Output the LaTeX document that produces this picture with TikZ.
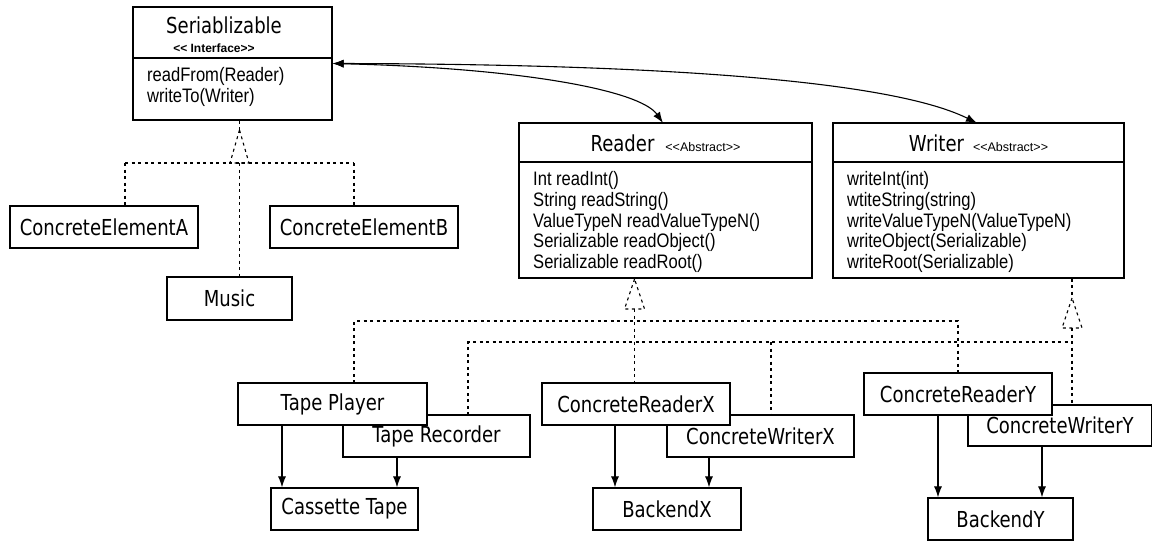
\documentclass[tikz,border=0pt]{standalone}
\usepackage{fontspec}
\setmainfont{Liberation Sans}
\usetikzlibrary{arrows.meta}
\newfontfamily\lblfamily[FakeStretch=0.82]{DejaVu Sans}
\newfontfamily\mthfamily[FakeStretch=0.85]{Liberation Sans}
\newfontfamily\tagfamily{Liberation Sans}
\newcommand\lblfont{\lblfamily\fontsize{22}{24}\selectfont}
\newcommand\mthfont{\mthfamily\fontsize{19.5}{21}\selectfont}
\newcommand\tagfont{\tagfamily\fontsize{12.5}{14}\selectfont}
\newcommand\itagfont{\tagfamily\bfseries\fontsize{12}{14}\selectfont}
\begin{document}
\begin{tikzpicture}[x=1pt, y=-1pt,
  box/.style={draw, fill=white, line width=1.2pt, inner sep=0pt, font=\lblfont},
  txt/.style={inner sep=0pt},
  mth/.style={anchor=west, inner sep=0pt, font=\mthfont},
  real/.style={line width=1.1pt, dash pattern=on 3pt off 3.5pt},
  dep/.style={line width=1.1pt, -{Latex[length=11pt,width=8pt]}},
  assoc/.style={line width=1.1pt, {Latex[length=11pt,width=8pt]}-{Latex[length=11pt,width=8pt]}},
]
\useasboundingbox[fill=white] (0,0) rectangle (1152,541);

% ---------- class boxes ----------
\node[box, minimum width=199pt, minimum height=113pt] (ser) at (232.5,63.5) {};
\draw[line width=1.2pt] (ser.west |- 0,58) -- (ser.east |- 0,58);
\node[txt, font=\lblfont] (sert) at (224,25) {Seriablizable};
\node[txt, font=\itagfont] (seri) at (214,48) {<{}< Interface>{}>};
\node[mth] (sm1) at (147,76) {readFrom(Reader)};
\node[mth] (sm2) at (147,97) {writeTo(Writer)};

\node[box, minimum width=293pt, minimum height=155pt] (rd) at (665.5,200.5) {};
\draw[line width=1.2pt] (rd.west |- 0,162) -- (rd.east |- 0,162);
\node[txt, anchor=base] (rdt) at (665.5,151) {{\lblfont Reader}\hspace{11pt}{\tagfont <{}<Abstract>{}>}};
\node[mth] (rm1) at (533,180) {Int readInt()};
\node[mth] (rm2) at (533,201) {String readString()};
\node[mth] (rm3) at (533,222) {ValueTypeN readValueTypeN()};
\node[mth] (rm4) at (533,242.5) {Serializable readObject()};
\node[mth] (rm5) at (533,263) {Serializable readRoot()};

\node[box, minimum width=291pt, minimum height=155pt] (wr) at (978.5,200.5) {};
\draw[line width=1.2pt] (wr.west |- 0,162) -- (wr.east |- 0,162);
\node[txt, anchor=base] (wrt) at (978.5,151) {{\lblfont Writer}\hspace{9pt}{\tagfont <{}<Abstract>{}>}};
\node[mth] (wm1) at (847,180) {writeInt(int)};
\node[mth] (wm2) at (847,201) {wtiteString(string)};
\node[mth] (wm3) at (847,222) {writeValueTypeN(ValueTypeN)};
\node[mth] (wm4) at (847,242.5) {writeObject(Serializable)};
\node[mth] (wm5) at (847,263) {writeRoot(Serializable)};

% ---------- associations Serializable <-> Reader / Writer ----------
\coordinate (rdin) at (663,123);
\coordinate (wrin) at (977,123);
\draw[assoc] (ser.east) .. controls (520,68) and (640,90) .. (rdin);
\draw[assoc] (ser.east) .. controls (600,64) and (880,75) .. (wrin);

% ---------- realization of Serializable ----------
\coordinate (sapex) at (239.5,130);
\coordinate (sj) at (239.5,163);
\coordinate (sl) at (125,163);
\coordinate (sr) at (354,163);
\draw[real] (ser.south -| sapex) -- (sapex);
\draw[real] (sapex) -- (230,163) -- (249,163) -- cycle;
\draw[real] (sl) -- (sr);
\draw[real] (sl) -- (sl |- 0,206);
\draw[real] (sr) -- (sr |- 0,206);
\draw[real] (sj) -- (sj |- 0,277);

% ---------- realization of Reader ----------
\coordinate (rapex) at (634.5,279);
\coordinate (rb) at (634.5,309);
\draw[real] (rapex) -- (624.5,309) -- (644.5,309) -- cycle;
\draw[real] (rb) -- (rb |- 0,383);
\coordinate (h1l) at (354,321);
\coordinate (h1r) at (958,321);
\draw[real] (h1l |- 0,383) -- (h1l) -- (h1r) -- (h1r |- 0,373);

% ---------- realization of Writer ----------
\coordinate (wapex) at (1072,298);
\coordinate (wb) at (1072,328);
\draw[real] (wr.south -| wapex) -- (wapex);
\draw[real] (wapex) -- (1062,328) -- (1082,328) -- cycle;
\draw[real] (wb) -- (wb |- 0,405);
\coordinate (h2l) at (468,342);
\coordinate (h2x) at (771,342);
\coordinate (h2r) at (1072,342);
\draw[real] (h2l |- 0,415) -- (h2l) -- (h2r);
\draw[real] (h2x) -- (h2x |- 0,415);

% ---------- concrete classes ----------
\node[box, minimum width=188pt, minimum height=42pt] (cea) at (104,227) {ConcreteElementA};
\node[box, minimum width=188pt, minimum height=42pt] (ceb) at (364,227) {ConcreteElementB};
\node[box, minimum width=125pt, minimum height=43pt] (mus) at (229.5,298.5) {Music};

\node[box, minimum width=187pt, minimum height=42pt] (trc) at (436.5,436) {Tape Recorder};
\node[box, minimum width=189pt, minimum height=42pt] (tp) at (332.5,404) {Tape Player};
\node[box, minimum width=147pt, minimum height=42pt] (cas) at (344.5,509) {Cassette Tape};

\node[box, minimum width=187pt, minimum height=42pt] (cwx) at (760.5,436) {ConcreteWriterX};
\node[box, minimum width=188pt, minimum height=42pt] (crx) at (636,404) {ConcreteReaderX};
\node[box, minimum width=148pt, minimum height=42pt] (bx) at (667,509) {BackendX};

\node[box, minimum width=184pt, minimum height=41pt] (cwy) at (1060,425.5) {ConcreteWriterY};
\node[box, minimum width=188pt, minimum height=42pt] (cry) at (958,394) {ConcreteReaderY};
\node[box, minimum width=145pt, minimum height=42pt] (by) at (1000.5,519) {BackendY};

% ---------- dependencies on the backends ----------
\coordinate (a1) at (282,0);
\coordinate (a2) at (397,0);
\coordinate (a3) at (615,0);
\coordinate (a4) at (709,0);
\coordinate (a5) at (938,0);
\coordinate (a6) at (1042,0);
\draw[dep] (tp.south -| a1) -- (cas.north -| a1);
\draw[dep] (trc.south -| a2) -- (cas.north -| a2);
\draw[dep] (crx.south -| a3) -- (bx.north -| a3);
\draw[dep] (cwx.south -| a4) -- (bx.north -| a4);
\draw[dep] (cry.south -| a5) -- (by.north -| a5);
\draw[dep] (cwy.south -| a6) -- (by.north -| a6);
\end{tikzpicture}
\end{document}
